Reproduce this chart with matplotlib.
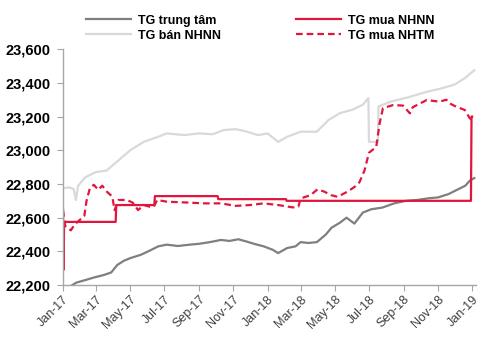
import matplotlib
matplotlib.use("Agg")
import matplotlib.pyplot as plt
import matplotlib.dates as mdates
import pandas as pd

plt.rcParams["font.family"] = ["Liberation Sans", "DejaVu Sans"]

# TG trung tâm (central rate)
central_dates = [
    "2017-01-01", "2017-01-15", "2017-01-25", "2017-02-10", "2017-02-25",
    "2017-03-15", "2017-03-28", "2017-04-08", "2017-04-20", "2017-05-01",
    "2017-05-20", "2017-06-05", "2017-06-20", "2017-07-05", "2017-07-25",
    "2017-08-15", "2017-09-01", "2017-09-20", "2017-10-10", "2017-10-25",
    "2017-11-10", "2017-11-25", "2017-12-10", "2017-12-25", "2018-01-10",
    "2018-01-20", "2018-02-05", "2018-02-20", "2018-03-01", "2018-03-15",
    "2018-03-30", "2018-04-15", "2018-04-25", "2018-05-10", "2018-05-22",
    "2018-06-05", "2018-06-20", "2018-07-05", "2018-07-25", "2018-08-15",
    "2018-09-05", "2018-09-25", "2018-10-15", "2018-11-01", "2018-11-20",
    "2018-12-05", "2018-12-20", "2018-12-28", "2019-01-05",
]
central_vals = [
    22190, 22195, 22215, 22230, 22245,
    22260, 22275, 22320, 22345, 22360,
    22380, 22405, 22430, 22440, 22432,
    22440, 22445, 22455, 22468, 22462,
    22472, 22458, 22443, 22430, 22410,
    22390, 22420, 22430, 22455, 22450,
    22455, 22500, 22540, 22570, 22600,
    22565, 22630, 22650, 22660, 22685,
    22700, 22705, 22715, 22720, 22740,
    22765, 22790, 22820, 22835,
]

# TG bán NHNN (SBV selling rate)
sell_dates = [
    "2017-01-01", "2017-01-12", "2017-01-20", "2017-01-24", "2017-01-28",
    "2017-02-10", "2017-02-28", "2017-03-20", "2017-04-01", "2017-04-10",
    "2017-05-01", "2017-05-25", "2017-06-20", "2017-07-05", "2017-08-05",
    "2017-09-01", "2017-09-25", "2017-10-15", "2017-11-05", "2017-11-20",
    "2017-12-15", "2018-01-01", "2018-01-20", "2018-02-05", "2018-03-01",
    "2018-03-30", "2018-04-20", "2018-05-10", "2018-06-01", "2018-06-20",
    "2018-06-30", "2018-07-01", "2018-07-17", "2018-07-18", "2018-08-10",
    "2018-09-10", "2018-10-10", "2018-11-05", "2018-12-01", "2018-12-20",
    "2019-01-05",
]
sell_vals = [
    22775, 22780, 22770, 22705, 22790,
    22840, 22870, 22880, 22915, 22940,
    23000, 23050, 23080, 23100, 23090,
    23100, 23095, 23120, 23125, 23115,
    23090, 23100, 23050, 23080, 23110,
    23110, 23180, 23220, 23240, 23270,
    23310, 23050, 23050, 23260, 23290,
    23315, 23345, 23365, 23390, 23430,
    23475,
]

# TG mua NHNN (SBV buying rate)
buy_sbv_dates = [
    "2017-01-01", "2017-01-02", "2017-01-03", "2017-04-05", "2017-04-06",
    "2017-06-13", "2017-06-14", "2017-10-04", "2017-10-05", "2018-02-03",
    "2018-02-04", "2018-12-30", "2018-12-31", "2019-01-01",
]
buy_sbv_vals = [
    22655, 22290, 22575, 22575, 22675,
    22675, 22728, 22728, 22710, 22710,
    22700, 22700, 23200, 23200,
]

# TG mua NHTM (commercial bank buying rate)
buy_cb_dates = [
    "2017-01-01", "2017-01-05", "2017-01-15", "2017-01-22", "2017-02-01",
    "2017-02-08", "2017-02-12", "2017-02-18", "2017-02-25", "2017-03-05",
    "2017-03-12", "2017-03-20", "2017-03-30", "2017-04-03", "2017-04-10",
    "2017-04-25", "2017-05-05", "2017-05-15", "2017-05-25", "2017-06-05",
    "2017-06-12", "2017-06-18", "2017-07-05", "2017-08-10", "2017-09-10",
    "2017-10-10", "2017-11-05", "2017-12-01", "2017-12-25", "2018-01-20",
    "2018-02-15", "2018-02-25", "2018-03-01", "2018-03-19", "2018-03-31",
    "2018-04-12", "2018-04-24", "2018-05-06", "2018-05-24", "2018-06-05",
    "2018-06-14", "2018-06-23", "2018-07-01", "2018-07-14", "2018-07-20",
    "2018-07-26", "2018-08-13", "2018-08-31", "2018-09-12", "2018-09-17",
    "2018-10-12", "2018-11-04", "2018-11-16", "2018-11-22", "2018-12-04",
    "2018-12-19", "2018-12-28", "2019-01-03",
]
buy_cb_vals = [
    22645, 22550, 22525, 22560, 22590,
    22610, 22700, 22775, 22795, 22765,
    22790, 22755, 22725, 22645, 22705,
    22705, 22690, 22645, 22675, 22665,
    22665, 22705, 22695, 22690, 22685,
    22685, 22670, 22675, 22685, 22675,
    22661, 22665, 22714, 22734, 22768,
    22755, 22734, 22724, 22755, 22782,
    22810, 22880, 22985, 23020, 23160,
    23250, 23268, 23265, 23219, 23255,
    23298, 23288, 23300, 23278, 23258,
    23239, 23189, 23180,
]

RED = "#e2163c"
DARK = "#7f7f7f"
LIGHT = "#d9d9d9"

fig = plt.figure(figsize=(5, 3.46), dpi=100)
ax = fig.add_axes([0.126, 0.176, 0.826, 0.682])

ax.plot(pd.to_datetime(central_dates), central_vals, color=DARK, lw=1.6, label="TG trung tâm")
ax.plot(pd.to_datetime(sell_dates), sell_vals, color=LIGHT, lw=1.6, label="TG bán NHNN")
ax.plot(pd.to_datetime(buy_sbv_dates), buy_sbv_vals, color=RED, lw=1.6, label="TG mua NHNN")
ax.plot(pd.to_datetime(buy_cb_dates), buy_cb_vals, color=RED, lw=1.6,
        ls=(0, (3, 1.8)), label="TG mua NHTM")

ax.set_ylim(22200, 23600)
ax.set_yticks(range(22200, 23601, 200))
ax.yaxis.set_major_formatter(matplotlib.ticker.FuncFormatter(lambda v, p: f"{int(v):,}"))
ax.set_xlim(pd.Timestamp("2017-01-01"), pd.Timestamp("2019-01-08"))
ax.xaxis.set_major_locator(mdates.MonthLocator(bymonth=[1, 3, 5, 7, 9, 11]))
ax.xaxis.set_major_formatter(mdates.DateFormatter("%b-%y"))

for s in ["top", "right"]:
    ax.spines[s].set_visible(False)
for s in ["left", "bottom"]:
    ax.spines[s].set_color("#a6a6a6")
    ax.spines[s].set_linewidth(1.0)

ax.tick_params(axis="y", length=4, color="#a6a6a6", pad=5, labelsize=10.5)
ax.tick_params(axis="x", length=4, color="#a6a6a6", pad=2, labelsize=9, labelcolor="#404040")
for lab in ax.get_yticklabels():
    lab.set_fontweight("bold")
for lab in ax.get_xticklabels():
    lab.set_rotation(45)
    lab.set_ha("right")
    lab.set_rotation_mode("anchor")

leg = fig.legend(loc="upper left", bbox_to_anchor=(0.15, 0.99), ncol=2, frameon=False,
                 handlelength=3.6, handletextpad=0.55, columnspacing=6.0,
                 labelspacing=0.25, prop={"weight": "bold", "size": 9})

fig.savefig("out.png", dpi=100)
